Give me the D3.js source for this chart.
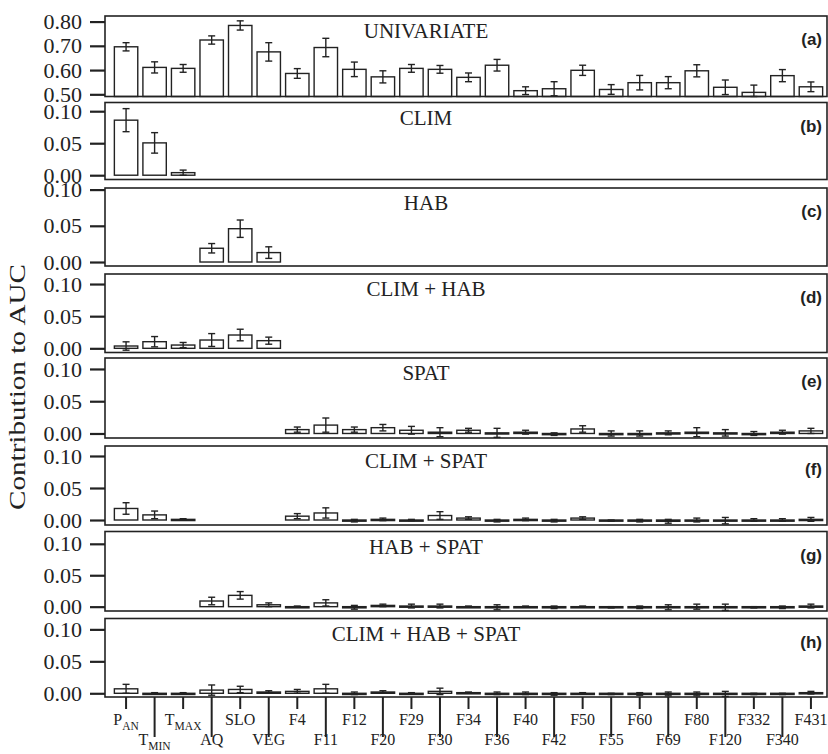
<html>
<head>
<script src="https://d3js.org/d3.v7.min.js"></script>
<style>
  body { margin: 0; background: #fff; }
</style>
</head>
<body>
<div id="chart"></div>
<script>
// category order along the x axis (underscore = subscript)
var categories = ["P_AN","T_MIN","T_MAX","AQ","SLO","VEG","F4","F11","F12","F20","F29","F30","F34","F36",
                  "F40","F42","F50","F55","F60","F69","F80","F120","F332","F340","F431"];

var panelNames = ["UNIVARIATE","CLIM","HAB","CLIM + HAB","SPAT","CLIM + SPAT","HAB + SPAT","CLIM + HAB + SPAT"];
var panelTags  = ["(a)","(b)","(c)","(d)","(e)","(f)","(g)","(h)"];

var n = null;
var univariate    = [0.696,0.611,0.607,0.724,0.784,0.675,0.586,0.693,0.603,0.572,0.607,0.603,0.570,0.620,0.515,0.523,0.599,0.520,0.548,0.548,0.597,0.529,0.508,0.577,0.531];
var univariateErr = [0.017,0.023,0.016,0.017,0.019,0.038,0.020,0.038,0.030,0.025,0.016,0.016,0.018,0.024,0.016,0.029,0.021,0.020,0.030,0.025,0.025,0.030,0.030,0.025,0.020];

var clim    = [0.086,0.0505,0.004,n,n,n,n,n,n,n,n,n,n,n,n,n,n,n,n,n,n,n,n,n,n];
var climErr = [0.018,0.016,0.004,n,n,n,n,n,n,n,n,n,n,n,n,n,n,n,n,n,n,n,n,n,n];

var hab    = [n,n,n,0.019,0.046,0.013,n,n,n,n,n,n,n,n,n,n,n,n,n,n,n,n,n,n,n];
var habErr = [n,n,n,0.0065,0.012,0.008,n,n,n,n,n,n,n,n,n,n,n,n,n,n,n,n,n,n,n];

var climHab    = [0.0036,0.0103,0.0051,0.0129,0.0207,0.0119,n,n,n,n,n,n,n,n,n,n,n,n,n,n,n,n,n,n,n];
var climHabErr = [0.0065,0.008,0.004,0.010,0.009,0.0055,n,n,n,n,n,n,n,n,n,n,n,n,n,n,n,n,n,n,n];

var spat    = [n,n,n,n,n,n,0.006,0.013,0.006,0.009,0.005,0.002,0.005,0.001,0.002,-0.001,0.007,0.000,0.000,0.001,0.002,0.001,0.000,0.002,0.004];
var spatErr = [n,n,n,n,n,n,0.004,0.011,0.004,0.005,0.006,0.007,0.003,0.007,0.003,0.002,0.005,0.004,0.004,0.003,0.007,0.005,0.003,0.003,0.004];

var climSpat    = [0.018,0.008,0.001,n,n,n,0.006,0.011,-0.001,0.001,0.000,0.007,0.003,-0.001,0.001,-0.001,0.003,-0.001,-0.001,-0.002,0.000,-0.001,0.000,0.000,0.001];
var climSpatErr = [0.009,0.006,0.001,n,n,n,0.004,0.008,0.002,0.002,0.001,0.006,0.002,0.002,0.002,0.002,0.002,0.001,0.002,0.003,0.003,0.005,0.002,0.002,0.003];

var habSpat    = [n,n,n,0.009,0.018,0.003,0.000,0.006,-0.001,0.002,0.001,0.001,0.000,-0.001,0.000,-0.001,0.000,-0.001,-0.001,-0.001,0.000,-0.001,-0.001,-0.001,0.001];
var habSpatErr = [n,n,n,0.006,0.006,0.003,0.001,0.005,0.003,0.002,0.003,0.003,0.001,0.004,0.001,0.002,0.001,0.001,0.002,0.004,0.004,0.005,0.001,0.002,0.003];

var climHabSpat    = [0.007,0.000,0.000,0.005,0.006,0.002,0.003,0.007,0.000,0.002,0.000,0.003,0.001,0.000,0.000,-0.001,0.000,-0.001,-0.001,-0.001,-0.001,-0.001,-0.001,-0.001,0.001];
var climHabSpatErr = [0.007,0.001,0.001,0.008,0.005,0.002,0.003,0.007,0.002,0.002,0.001,0.005,0.001,0.002,0.002,0.002,0.001,0.001,0.002,0.003,0.003,0.004,0.001,0.001,0.002];

var seriesValues = [univariate, clim, hab, climHab, spat, climSpat, habSpat, climHabSpat];
var seriesErrors = [univariateErr, climErr, habErr, climHabErr, spatErr, climSpatErr, habSpatErr, climHabSpatErr];

var topTicks = [0.50, 0.60, 0.70, 0.80];
var lowTicks = [0.00, 0.05, 0.10];

// panel layout: pixel top/bottom and value range shown
var layout = [
  {top: 16,    bottom: 96.5, lo: 0.491,   hi: 0.823},
  {top: 102.5, bottom: 179.5, lo: -0.0067, hi: 0.1136},
  {top: 188,   bottom: 266,  lo: -0.0055, hi: 0.1022},
  {top: 274,   bottom: 352.5, lo: -0.0065, hi: 0.1156},
  {top: 358,   bottom: 438,  lo: -0.007,  hi: 0.117},
  {top: 446,   bottom: 525,  lo: -0.0078, hi: 0.1156},
  {top: 531.5, bottom: 611,  lo: -0.0069, hi: 0.1196},
  {top: 618.5, bottom: 697,  lo: -0.0058, hi: 0.117}
];

var width = 828, height = 754;
var left = 105, right = 827;
var serif = "'Liberation Serif', 'Times New Roman', serif";

var svg = d3.select("#chart").append("svg")
    .attr("width", width)
    .attr("height", height);

var x = d3.scaleBand().domain(categories).range([111.8, 825.2]).paddingInner(0.18).paddingOuter(0.09);

layout.forEach(function(p, k) {
    var y = d3.scaleLinear().domain([p.lo, p.hi]).range([p.bottom, p.top]);
    var base = k == 0 ? p.lo : 0;
    var g = svg.append("g");

    var yAxis = g.append("g")
        .attr("transform", "translate(" + left + ",0)")
        .call(d3.axisLeft(y).tickValues(k == 0 ? topTicks : lowTicks).tickFormat(d3.format(".2f")).tickSize(15).tickPadding(8));
    yAxis.select(".domain").remove();
    yAxis.selectAll(".tick line").attr("stroke", "#222").attr("stroke-width", 2.2);
    yAxis.selectAll(".tick text").attr("fill", "#222").style("font-family", serif).style("font-size", "22px");

    var data = categories.map(function(c, i) {
        return {cat: c, v: seriesValues[k][i], e: seriesErrors[k][i]};
    }).filter(function(d) { return d.v !== null; });

    g.selectAll("rect.bar").data(data).enter().append("rect")
        .attr("class", "bar")
        .attr("x", function(d) { return x(d.cat); })
        .attr("width", x.bandwidth())
        .attr("y", function(d) { return Math.min(y(d.v), y(base)); })
        .attr("height", function(d) { return Math.max(Math.abs(y(d.v) - y(base)), 1.2); })
        .attr("fill", "#fff")
        .attr("stroke", "#222")
        .attr("stroke-width", 1.4);

    var eb = g.selectAll("g.err").data(data).enter().append("g").attr("class", "err");
    eb.append("line")
        .attr("x1", function(d) { return x(d.cat) + x.bandwidth() / 2; })
        .attr("x2", function(d) { return x(d.cat) + x.bandwidth() / 2; })
        .attr("y1", function(d) { return y(Math.max(d.v - d.e, p.lo)); })
        .attr("y2", function(d) { return y(d.v + d.e); });
    eb.append("line")
        .attr("x1", function(d) { return x(d.cat) + x.bandwidth() / 2 - 3.5; })
        .attr("x2", function(d) { return x(d.cat) + x.bandwidth() / 2 + 3.5; })
        .attr("y1", function(d) { return y(d.v + d.e); })
        .attr("y2", function(d) { return y(d.v + d.e); });
    eb.append("line")
        .attr("x1", function(d) { return x(d.cat) + x.bandwidth() / 2 - 3.5; })
        .attr("x2", function(d) { return x(d.cat) + x.bandwidth() / 2 + 3.5; })
        .attr("y1", function(d) { return y(Math.max(d.v - d.e, p.lo)); })
        .attr("y2", function(d) { return y(Math.max(d.v - d.e, p.lo)); });
    eb.selectAll("line").attr("stroke", "#222").attr("stroke-width", 1.4);

    // panel frame
    g.append("rect")
        .attr("x", left).attr("y", p.top)
        .attr("width", right - left).attr("height", p.bottom - p.top)
        .attr("fill", "none").attr("stroke", "#222").attr("stroke-width", 1.6);

    g.append("text")
        .attr("x", 426).attr("y", p.top + 22)
        .attr("text-anchor", "middle")
        .style("font-family", serif).style("font-size", "21px").attr("fill", "#222")
        .text(panelNames[k]);

    g.append("text")
        .attr("x", 822).attr("y", p.top + 29)
        .attr("text-anchor", "end")
        .style("font-family", "'Liberation Sans', Arial, sans-serif").style("font-size", "17px")
        .style("font-weight", "bold").attr("fill", "#222")
        .text(panelTags[k]);
});

// x axis below the last panel, labels staggered on two rows
var last = layout[layout.length - 1];
var xAxis = svg.append("g")
    .attr("transform", "translate(0," + last.bottom + ")")
    .call(d3.axisBottom(x).tickSize(12).tickFormat(""));
xAxis.select(".domain").remove();
xAxis.selectAll(".tick text").remove();
xAxis.selectAll(".tick line")
    .attr("stroke", "#222").attr("stroke-width", 2)
    .attr("y2", function(d, i) { return i % 2 ? 40 : 12; });

var lbl = xAxis.selectAll(".tick").append("text")
    .attr("y", function(d, i) { return i % 2 ? 48 : 28; })
    .attr("text-anchor", "middle")
    .attr("fill", "#222")
    .style("font-family", serif).style("font-size", "16px");
lbl.append("tspan").text(function(d) { return d.split("_")[0]; });
lbl.filter(function(d) { return d.indexOf("_") > 0; })
    .append("tspan").attr("dy", 5).style("font-size", "11.5px")
    .text(function(d) { return d.split("_")[1]; });

svg.append("text")
    .attr("transform", "translate(25,387)rotate(-90)")
    .attr("text-anchor", "middle")
    .attr("textLength", 246)
    .attr("lengthAdjust", "spacingAndGlyphs")
    .style("font-family", serif).style("font-size", "23px").attr("fill", "#222")
    .text("Contribution to AUC");
</script>
</body>
</html>
